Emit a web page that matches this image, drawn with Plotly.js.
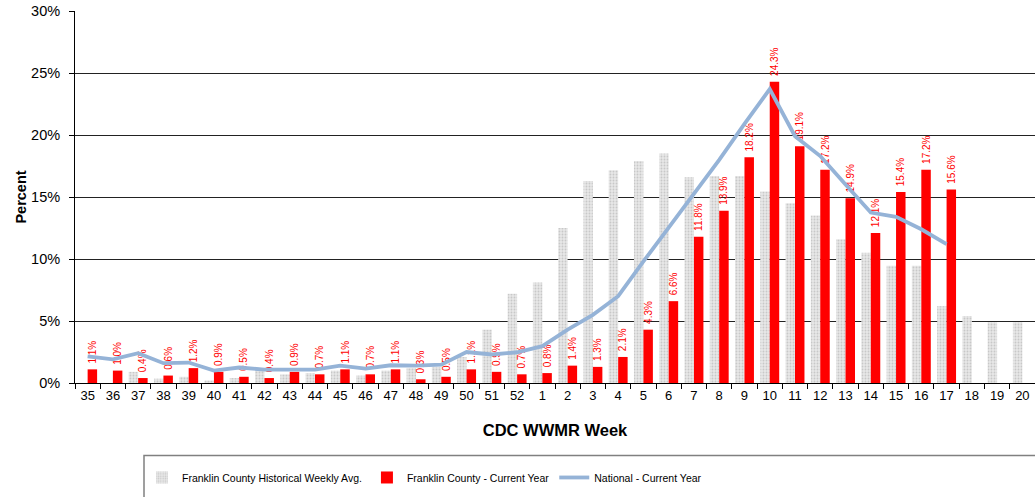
<!DOCTYPE html>
<html>
<head>
<meta charset="utf-8">
<script src="https://cdn.plot.ly/plotly-3.0.1.min.js"></script>
<style>
html,body{margin:0;padding:0;overflow:hidden;background:#fff;}
#chart{width:1035px;height:497px;}
</style>
</head>
<body>
<div id="chart"></div>
<script>
var weeks = ["35","36","37","38","39","40","41","42","43","44","45","46","47","48","49","50","51","52",
             "1","2","3","4","5","6","7","8","9","10","11","12","13","14","15","16","17","18","19","20"];

var historicalAvg = [0,0,0.9,0.35,0.5,0.2,0.4,1.0,0.7,0.8,1.0,0.6,1.0,1.2,1.3,2.1,4.3,7.2,
                     8.1,12.5,16.3,17.15,17.9,18.5,16.6,16.7,16.7,15.45,14.5,13.5,11.6,10.5,9.45,9.45,6.2,5.4,4.9,4.9];

var currentYear = [1.1,1.0,0.4,0.6,1.2,0.9,0.5,0.4,0.9,0.7,1.1,0.7,1.1,0.3,0.5,1.1,0.9,0.7,
                   0.8,1.4,1.3,2.1,4.3,6.6,11.8,13.9,18.2,24.3,19.1,17.2,14.9,12.1,15.4,17.2,15.6,null,null,null];

var national = [2.15,1.9,2.4,1.6,1.65,1.0,1.25,1.08,1.08,1.08,1.4,1.16,1.43,1.4,1.48,2.5,2.3,2.48,
                2.97,4.3,5.5,7.0,9.8,12.5,15.2,18.0,20.9,23.7,19.9,18.3,16.0,13.75,13.4,12.4,11.2,null,null,null];

var seriesNames = ["Franklin County Historical Weekly Avg.","Franklin County - Current Year","National - Current Year"];

var currentLabels = currentYear.map(function(v){ return v === null ? "" : "\u00a0" + v.toFixed(1) + "%"; });

var traces = [
  {
    type: "bar", name: seriesNames[0], x: weeks, y: historicalAvg.map(function(v){return v/100;}),
    marker: {color: "#e3e3e3", line: {width: 0},
             pattern: {shape: ".", fgcolor: "#c8c8c8", bgcolor: "#e8e8e8", size: 3, solidity: 0.3}},
    hoverinfo: "x+y"
  },
  {
    type: "bar", name: seriesNames[1], x: weeks, y: currentYear.map(function(v){return v===null?null:v/100;}),
    marker: {color: "#ff0000", line: {width: 0}},
    text: currentLabels, textposition: "outside", textangle: -90, constraintext: "none",
    cliponaxis: false,
    textfont: {family: "Liberation Sans, Arial, sans-serif", size: 10, color: "#ff0000"}
  },
  {
    type: "scatter", mode: "lines", name: seriesNames[2], x: weeks,
    y: national.map(function(v){return v===null?null:v/100;}),
    line: {color: "#95b3d7", width: 3.8}, connectgaps: false
  }
];

var layout = {
  width: 1035, height: 497,
  margin: {l: 75, r: 0, t: 11, b: 114, pad: 0},
  paper_bgcolor: "#ffffff", plot_bgcolor: "#ffffff",
  font: {family: "Liberation Sans, Arial, sans-serif", size: 13, color: "#000"},
  barmode: "group", bargap: 0.25, bargroupgap: 0,
  showlegend: true,
  legend: {orientation: "h", x: (142-75)/960, xanchor: "left", y: -0.215, yanchor: "top",
           font: {size: 10.5, family: "Liberation Sans, Arial, sans-serif"},
           bgcolor: "rgba(0,0,0,0)", borderwidth: 0, traceorder: "normal", itemwidth: 30},
  xaxis: {
    type: "category", tickmode: "array", tickvals: weeks, ticktext: weeks,
    showline: true, linecolor: "#000", linewidth: 1,
    ticks: "outside", tickson: "boundaries", ticklen: 5, tickcolor: "#000",
    showgrid: false, zeroline: false,
    tickfont: {size: 13},
    title: {text: "<b>CDC WWMR Week</b>", font: {size: 16.5}, standoff: 22}
  },
  yaxis: {
    range: [0, 0.30], dtick: 0.05, tickformat: ".0%",
    showline: true, linecolor: "#000", linewidth: 1,
    ticks: "outside", ticklen: 5, tickcolor: "#000", ticklabelstandoff: 6,
    showgrid: true, gridcolor: "#222", gridwidth: 1, zeroline: false,
    tickfont: {size: 14.5},
    title: {text: "<b>Percent</b>", font: {size: 14.5}, standoff: 0}
  },
  shapes: [
    {type: "rect", xref: "paper", yref: "paper", x0: (144-75)/960, x1: 1.02, y0: -0.36, y1: (383-455.5)/372,
     line: {color: "#808080", width: 1.5}, fillcolor: "rgba(0,0,0,0)", layer: "below"}
  ]
};

Plotly.newPlot("chart", traces, layout, {displayModeBar: false, staticPlot: true});
</script>
</body>
</html>
